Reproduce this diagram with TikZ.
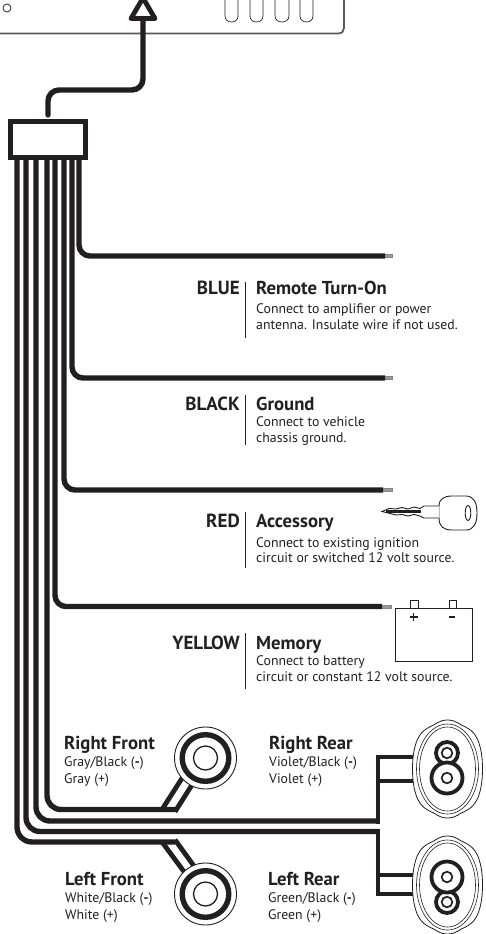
\documentclass[tikz,border=0pt]{standalone}
\usepackage{fontspec}
\setmainfont{PT Sans}
\definecolor{ink}{HTML}{231F20}
\tikzset{
  wire/.style={draw=ink,line width=5.4pt,rounded corners=11pt},
  thinwire/.style={draw=ink,line width=4.8pt,line join=miter},
  outline/.style={draw=ink,line width=.8pt},
  colorlabel/.style={anchor=base east,inner sep=0pt,font=\bfseries\fontsize{19}{19}\selectfont,text=ink},
  headlabel/.style={anchor=base west,inner sep=0pt,font=\bfseries\fontsize{18.7}{18.7}\selectfont,text=ink},
  sublabel/.style={anchor=base west,inner sep=0pt,font=\fontsize{13.8}{13.8}\selectfont,text=ink},
  sep/.style={draw=ink,line width=0.9pt},
  strip/.style={draw=ink!55,fill=ink!45,line width=.5pt},
}
\newcommand{\rearspk}[1]{%
  \draw[outline,fill=white,shift={(#1)}] (0,-49) .. controls (9,-49) and (12,-44) .. (18,-42)
    .. controls (26,-38) and (30,-32) .. (32,-24)
    .. controls (36,-12) and (36,12) .. (32,24)
    .. controls (30,32) and (26,38) .. (18,42)
    .. controls (12,44) and (9,49) .. (0,49)
    .. controls (-9,49) and (-12,44) .. (-18,42)
    .. controls (-26,38) and (-30,32) .. (-32,24)
    .. controls (-36,12) and (-36,-12) .. (-32,-24)
    .. controls (-30,-32) and (-26,-38) .. (-18,-42)
    .. controls (-12,-44) and (-9,-49) .. (0,-49) -- cycle;
  \draw[draw=ink,line width=.6pt,shift={(#1)}] (0,0) ellipse [x radius=31,y radius=45];
  \draw[draw=ink,line width=.6pt,shift={(#1)}] (0,0) ellipse [x radius=28,y radius=42];
}
\newcommand{\roundspk}[1]{%
  \draw[draw=ink,line width=.9pt,fill=white] (#1) circle [radius=31];
  \draw[draw=ink,line width=5.4pt,fill=white] (#1) circle [radius=23.3];
  \draw[draw=ink,line width=1.3pt] (#1) circle [radius=12];
}
\begin{document}
\begin{tikzpicture}[x=1pt,y=-1pt]
\useasboundingbox (0,0) rectangle (486,934);
% head unit
\draw[draw=ink!75,line width=1.8pt] (0,33.5) -- (338,33.5) .. controls (342,33.5) and (344,31) .. (344,28) -- (344,0);
\draw[draw=ink,line width=.8pt] (7,8) circle [radius=4];
\foreach \xa/\xb in {225/238,250/263,275/289,300/313}
  \draw[draw=ink,line width=.7pt] (\xa,0) -- (\xa,16) .. controls (\xa,24) and (\xb,24) .. (\xb,16) -- (\xb,0);
% upper wire and arrow
\coordinate (tip) at (143,19);
\coordinate (connTop) at (48,115);
\draw[wire,line cap=round] (connTop) -- (48,90) -- (143,90) -- (tip);
\draw[draw=ink,line width=4.8pt,line join=round,fill=white] (131,18.5) -- (143,-2) -- (155,18.5) -- cycle;
% power wires
\coordinate (endA) at (385,256);
\coordinate (endB) at (385,378);
\coordinate (endC) at (383,490);
\coordinate (endD) at (382,606.5);
\draw[wire] (79,150) -- (79,256) -- (endA);
\draw[wire] (72,150) -- (72,378) -- (endB);
\draw[wire] (64,150) -- (64,490) -- (endC);
\draw[wire] (55,150) -- (55,606.5) -- (endD);
\draw[strip] (385,254.5) rectangle (392,257.5);
\draw[strip] (385,376.5) rectangle (392,379.5);
\draw[strip] (383,488.5) rectangle (392,491.5);
\draw[strip] (382,605) rectangle (391,608);
% speaker wires
\coordinate (rf) at (205.5,758);
\coordinate (lf) at (205.5,894);
\coordinate (rr) at (447.5,769);
\coordinate (lr) at (447.5,885);
\draw[wire,rounded corners=14pt] (47,150) -- (47,809.5) -- (175,809.5);
\draw[wire,rounded corners=14pt] (36,150) -- (36,821) -- (378,821);
\draw[wire,rounded corners=14pt] (26,150) -- (26,831.5) -- (378,831.5);
\draw[wire,rounded corners=15pt] (17,150) -- (17,842) -- (175,842);
% front branches
\draw[thinwire] (162,809.5) -- (186,772);
\draw[thinwire] (175,811.7) -- (197,777);
\draw[thinwire] (162,842) -- (188,877);
\draw[thinwire] (175,839.8) -- (199,873);
% rear branches
\draw[thinwire] (378,823.5) -- (378,757) -- (415,757);
\draw[thinwire] (378,781) -- (415,781);
\draw[thinwire] (378,829) -- (378,894) -- (415,894);
\draw[thinwire] (378,875) -- (415,875);
% speakers
\roundspk{rf}
\roundspk{lf}
\rearspk{rr}
\rearspk{lr}
\draw[draw=ink,line width=3.8pt] (447,753) circle [radius=11];
\draw[draw=ink,line width=1.7pt] (447,753) circle [radius=5.3];
\draw[draw=ink,line width=3.8pt,fill=white] (447,778) circle [radius=15.5];
\draw[draw=ink,line width=1.7pt] (447,778) circle [radius=5.3];
\draw[draw=ink,line width=3.8pt] (447,902) circle [radius=11];
\draw[draw=ink,line width=1.7pt] (447,902) circle [radius=5.3];
\draw[draw=ink,line width=3.8pt,fill=white] (447,877) circle [radius=15.5];
\draw[draw=ink,line width=1.7pt] (447,877) circle [radius=5.3];
% connector
\node[draw=ink,line width=5pt,fill=white,minimum width=75pt,minimum height=36pt,inner sep=0pt,anchor=north west] (conn) at (8,119) {};
% key
\draw[draw=ink,line width=.9pt,fill=white] (439,506) .. controls (439,499) and (444,496) .. (452,496)
  -- (466,496) .. controls (474,496) and (477,503) .. (477,513)
  .. controls (477,523) and (474,530) .. (466,530) -- (452,530)
  .. controls (444,530) and (439,527) .. (439,518) -- cycle;
\draw[draw=ink,line width=.9pt] (468,513) ellipse [x radius=2.8,y radius=7.5];
\draw[draw=ink,line width=.9pt,fill=white] (439,506) -- (424,506) -- (420,508.5) -- (414,507)
  -- (408,509) -- (402,507.5) -- (396,509) -- (389,508.5) -- (382,511.5) -- (390,513.5)
  -- (396,515) -- (402,514.5) -- (408,516) -- (414,514.5) -- (420,516) -- (424,518) -- (439,518);
\draw[draw=ink,line width=2.4pt] (386,511.5) -- (421,511.5);
% battery
\draw[draw=ink,line width=.9pt] (410,608) -- (410,600) -- (418,600) -- (418,608);
\draw[draw=ink,line width=.9pt] (449,608) -- (449,600) -- (456.5,600) -- (456.5,608);
\draw[draw=ink,line width=.9pt] (395,608) rectangle (472,661);
\draw[draw=ink,line width=1.5pt] (409.5,617) -- (417.5,617) (413.5,613) -- (413.5,621);
\draw[draw=ink,line width=1.6pt] (449,617) -- (455,617);
% separators
\draw[sep] (245,282) -- (245,338);
\draw[sep] (245,395) -- (245,445);
\draw[sep] (245,512) -- (245,568);
\draw[sep] (245,633) -- (245,689);
% labels
\node[colorlabel] (l1) at (240,294) {BLUE};
\node[headlabel] (h1) at (256,294) {Remote Turn-On};
\node[sublabel] (s1a) at (256,313.5) {Connect to amplifier or power};
\node[sublabel] (s1b) at (256,329.5) {antenna. Insulate wire if not used.};
\node[colorlabel] (l2) at (240,410) {BLACK};
\node[headlabel] (h2) at (256,410) {Ground};
\node[sublabel] (s2a) at (256,426.5) {Connect to vehicle};
\node[sublabel] (s2b) at (256,442.5) {chassis ground.};
\node[colorlabel] (l3) at (240,527) {RED};
\node[headlabel] (h3) at (256,527) {Accessory};
\node[sublabel] (s3a) at (256,547) {Connect to existing ignition};
\node[sublabel] (s3b) at (256,562) {circuit or switched 12 volt source.};
\node[colorlabel] (l4) at (240,649) {YELLOW};
\node[headlabel] (h4) at (256,649) {Memory};
\node[sublabel] (s4a) at (256,665) {Connect to battery};
\node[sublabel] (s4b) at (256,681) {circuit or constant 12 volt source.};
\node[headlabel] (rfh) at (64,749) {Right Front};
\node[sublabel] (rfa) at (64,766) {Gray/Black ({\bfseries-})};
\node[sublabel] (rfb) at (64,783) {Gray (+)};
\node[headlabel] (rrh) at (269,749) {Right Rear};
\node[sublabel] (rra) at (269,766) {Violet/Black ({\bfseries-})};
\node[sublabel] (rrb) at (269,783) {Violet (+)};
\node[headlabel] (lfh) at (65,885) {Left Front};
\node[sublabel] (lfa) at (65,902) {White/Black ({\bfseries-})};
\node[sublabel] (lfb) at (65,919) {White (+)};
\node[headlabel] (lrh) at (268,885) {Left Rear};
\node[sublabel] (lra) at (268,902) {Green/Black ({\bfseries-})};
\node[sublabel] (lrb) at (268,919) {Green (+)};
\end{tikzpicture}
\end{document}
